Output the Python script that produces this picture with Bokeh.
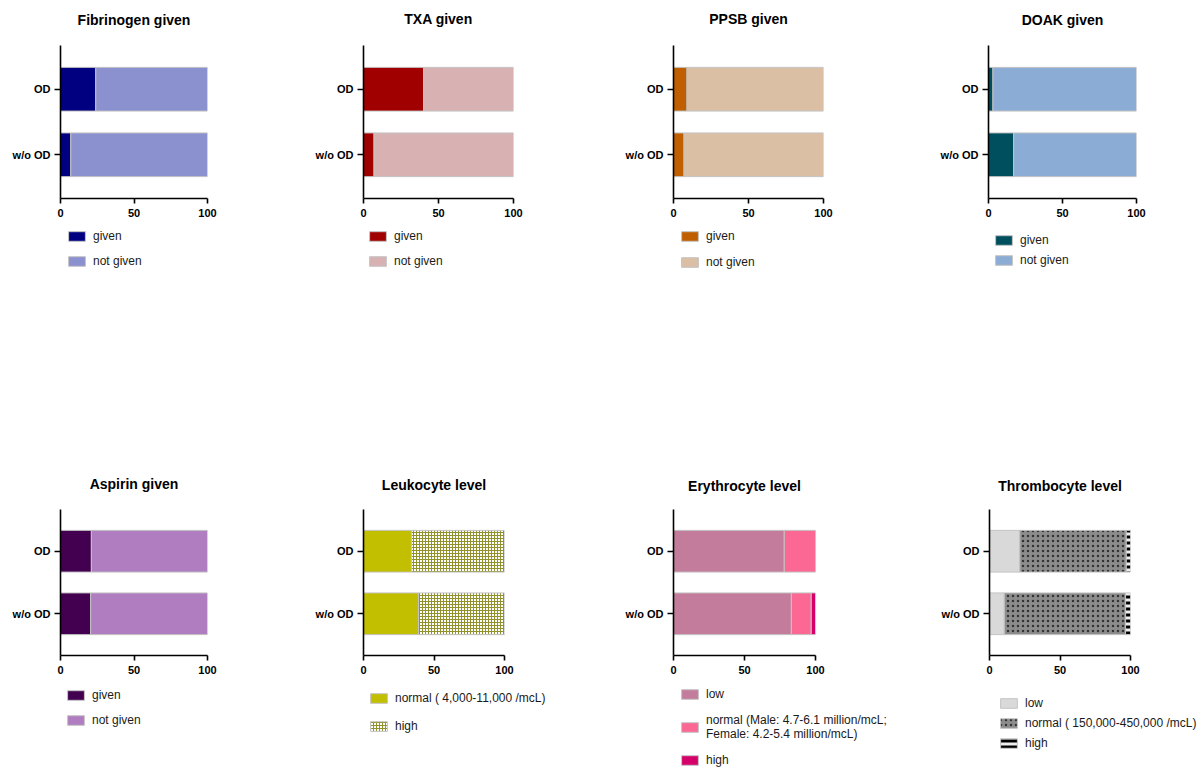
from bokeh.plotting import figure
from bokeh.models import FactorRange, Range1d, FixedTicker, Legend, LegendItem, ColumnDataSource
from bokeh.layouts import row, column
from bokeh.embed import file_html
from bokeh.resources import INLINE

# ---------------- data ----------------
groups = ["OD", "w/o OD"]
factor_order = ["w/o OD", "OD"]
x_ticks = [0, 50, 100]

fib_title = "Fibrinogen given"
fib_labels = ["given", "not given"]
fib_given = [24, 7]
fib_not = [76, 93]

txa_title = "TXA given"
txa_labels = ["given", "not given"]
txa_given = [40, 7]
txa_not = [60, 93]

ppsb_title = "PPSB given"
ppsb_labels = ["given", "not given"]
ppsb_given = [9, 7]
ppsb_not = [91, 93]

doak_title = "DOAK given"
doak_labels = ["given", "not given"]
doak_given = [3, 17]
doak_not = [97, 83]

asp_title = "Aspirin given"
asp_labels = ["given", "not given"]
asp_given = [21, 20.5]
asp_not = [79, 79.5]

leu_title = "Leukocyte level"
leu_labels = ["normal ( 4,000-11,000 /mcL)", "high"]
leu_normal = [34, 39]
leu_high = [66, 61]

ery_title = "Erythrocyte level"
ery_labels = ["low", "normal (Male: 4.7-6.1 million/mcL;\nFemale: 4.2-5.4 million/mcL)", "high"]
ery_low = [78, 83]
ery_normal = [22, 14]
ery_high = [0, 3]

thr_title = "Thrombocyte level"
thr_labels = ["low", "normal ( 150,000-450,000 /mcL)", "high"]
thr_low = [21.5, 10.5]
thr_normal = [75.5, 86]
thr_high = [3, 3.5]

FONT = "Liberation Sans"
ITEM_H = 14
GLYPH_W, GLYPH_H = 21, 12
SHIFT = 13          # each chart row is pulled up by this many px to give the titles room
PAGE_W = 1204


def style_kwargs(st):
    return dict(fill_color=st.get("fill"), line_color="#c4c4c4", line_width=1,
                hatch_pattern=st.get("hatch", " "), hatch_color=st.get("hcolor", "black"),
                hatch_scale=st.get("hscale", 6), hatch_weight=st.get("hweight", 1))


def make_chart(title, series, styles, g, row_top, chart_bottom):
    fig_top = row_top - SHIFT
    fig_h = chart_bottom - fig_top
    bt = g["ft"] - fig_top
    bb = chart_bottom - g["fb"]
    p = figure(width=g["w"], height=fig_h,
               y_range=FactorRange(factors=factor_order, range_padding=0.167),
               x_range=Range1d(0, 100), output_backend="svg", toolbar_location=None,
               min_border_left=g["fl"] - g["ox"], min_border_right=g["ox"] + g["w"] - g["fr"],
               min_border_top=bt, min_border_bottom=bb)
    data = {"y": groups}
    keys = []
    for i, s in enumerate(series):
        data["s%d" % i] = s
        keys.append("s%d" % i)
    src = ColumnDataSource(data)
    kw = {}
    for k in ("fill_color", "hatch_pattern", "hatch_color", "hatch_scale", "hatch_weight"):
        kw[k] = [style_kwargs(st)[k] for st in styles]
    p.hbar_stack(keys, y="y", height=0.667, source=src, line_color="#c4c4c4", line_width=1, **kw)

    p.xgrid.visible = False
    p.ygrid.visible = False
    p.outline_line_color = None
    for ax in (p.xaxis[0], p.yaxis[0]):
        ax.axis_line_width = 1.6
        ax.axis_line_color = "black"
        ax.major_tick_line_width = 1.6
        ax.major_tick_line_color = "black"
        ax.major_tick_out = 5
        ax.major_tick_in = 0
        ax.minor_tick_out = 0
        ax.minor_tick_in = 0
        ax.major_label_text_font = FONT
        ax.major_label_text_font_size = "11px"
        ax.major_label_text_font_style = "bold"
        ax.major_label_text_color = "black"
    p.xaxis[0].major_label_standoff = 5
    p.yaxis[0].major_label_standoff = 4
    p.yaxis[0].major_tick_out = 6
    p.xaxis[0].ticker = FixedTicker(ticks=x_ticks)

    p.title.text = title
    p.title.align = "center"
    p.title.text_font = FONT
    p.title.text_font_size = "14px"
    p.title.text_font_style = "bold"
    p.title.text_color = "black"
    s = 2 * (g["ft"] - 7 - g["tc"])
    p.title.standoff = int(round(min(s, bt - 18)))
    return p


def make_legend_row(panels, top, height):
    lf = figure(width=PAGE_W, height=height, x_range=Range1d(-2, -1), y_range=Range1d(0, 1),
                x_axis_type=None, y_axis_type=None, output_backend="svg", toolbar_location=None,
                min_border_left=0, min_border_right=0, min_border_top=0, min_border_bottom=0)
    lf.xgrid.visible = False
    lf.ygrid.visible = False
    lf.outline_line_color = None
    for labels, series, styles, g in panels:
        items = []
        for lab, s, st in zip(labels, series, styles):
            # legend proxies: same data and style, lying outside this strip's visible range
            r = lf.hbar(y=[0.5], left=[0], right=[s[0]], height=0.5, **style_kwargs(st))
            items.append(LegendItem(label=lab, renderers=[r]))
        n = len(items)
        leg_h = n * ITEM_H + (n - 1) * g["sp"] + g.get("extra", 0)
        top_rel = g["fb"] + g["ly"] - ITEM_H / 2 - top
        vx = g["fl"] + g["dx"] - 2
        vy = height - top_rel - leg_h
        legend = Legend(items=items, location=(vx, vy), margin=0, padding=0, spacing=g["sp"],
                        glyph_width=GLYPH_W, glyph_height=GLYPH_H, label_height=ITEM_H, label_standoff=6,
                        label_text_font=FONT, label_text_font_size="12px", label_text_color="#1a1a1a",
                        label_text_line_height=g.get("lh", 1.2),
                        border_line_color=None, background_fill_alpha=0)
        lf.add_layout(legend)
    return lf


given_pair = lambda c1, c2: [dict(fill=c1), dict(fill=c2)]

G1 = dict(ox=0, w=300, fl=60, fr=207, ft=45, fb=198, tc=20, dx=8, ly=38, sp=11)
G2 = dict(ox=300, w=300, fl=363, fr=513, ft=42, fb=199, tc=16.5, dx=6, ly=37, sp=11)
G3 = dict(ox=600, w=300, fl=673, fr=823, ft=43, fb=199, tc=17, dx=8, ly=37, sp=12)
G4 = dict(ox=900, w=304, fl=988, fr=1136, ft=45, fb=199, tc=20.5, dx=7, ly=41, sp=6)
G5 = dict(ox=0, w=300, fl=60, fr=207, ft=501, fb=655, tc=476.5, dx=7, ly=40, sp=11)
G6 = dict(ox=300, w=300, fl=363, fr=504, ft=509, fb=656, tc=485, dx=7, ly=42, sp=14)
G7 = dict(ox=600, w=300, fl=673, fr=815, ft=507, fb=655, tc=484, dx=8, ly=39, sp=12, extra=14, lh=0.95)
G8 = dict(ox=900, w=304, fl=989, fr=1130, ft=508, fb=656, tc=485, dx=11, ly=47, sp=6)

S1 = given_pair("#000080", "#8b90cf")
S2 = given_pair("#a00000", "#d8b2b2")
S3 = given_pair("#c05f00", "#dbbfa5")
S4 = given_pair("#004f5f", "#8bacd4")
S5 = given_pair("#430050", "#b07dc0")
S6 = [dict(fill="#c2bf00"),
      dict(fill="white", hatch="cross", hcolor="#92922c", hscale=3, hweight=1)]
S7 = [dict(fill="#c47c9c"), dict(fill="#fb6894"), dict(fill="#d6006b")]
S8 = [dict(fill="#d9d9d9"),
      dict(fill="#8c8c8c", hatch="dot", hcolor="#333333", hscale=5, hweight=1),
      dict(fill="#eeeeee", hatch="horizontal_line", hcolor="black", hscale=6, hweight=3)]

P1 = (fib_title, fib_labels, [fib_given, fib_not], S1, G1)
P2 = (txa_title, txa_labels, [txa_given, txa_not], S2, G2)
P3 = (ppsb_title, ppsb_labels, [ppsb_given, ppsb_not], S3, G3)
P4 = (doak_title, doak_labels, [doak_given, doak_not], S4, G4)
P5 = (asp_title, asp_labels, [asp_given, asp_not], S5, G5)
P6 = (leu_title, leu_labels, [leu_normal, leu_high], S6, G6)
P7 = (ery_title, ery_labels, [ery_low, ery_normal, ery_high], S7, G7)
P8 = (thr_title, thr_labels, [thr_low, thr_normal, thr_high], S8, G8)

ROW1_TOP, ROW1_CHART_BOTTOM, ROW1_END = 0, 226, 456
ROW2_TOP, ROW2_CHART_BOTTOM, ROW2_END = 456, 684, 769

charts1 = [make_chart(t, s, st, g, ROW1_TOP, ROW1_CHART_BOTTOM) for t, l, s, st, g in (P1, P2, P3, P4)]
charts2 = [make_chart(t, s, st, g, ROW2_TOP, ROW2_CHART_BOTTOM) for t, l, s, st, g in (P5, P6, P7, P8)]
leg1 = make_legend_row([(l, s, st, g) for t, l, s, st, g in (P1, P2, P3, P4)],
                       ROW1_CHART_BOTTOM, ROW1_END - ROW1_CHART_BOTTOM)
leg2 = make_legend_row([(l, s, st, g) for t, l, s, st, g in (P5, P6, P7, P8)],
                       ROW2_CHART_BOTTOM, ROW2_END - ROW2_CHART_BOTTOM)

layout = column(row(*charts1, spacing=0, margin=(-SHIFT, 0, 0, 0)), leg1,
                row(*charts2, spacing=0, margin=(-SHIFT, 0, 0, 0)), leg2, spacing=0)
open("out.html", "w").write(file_html(layout, INLINE))
